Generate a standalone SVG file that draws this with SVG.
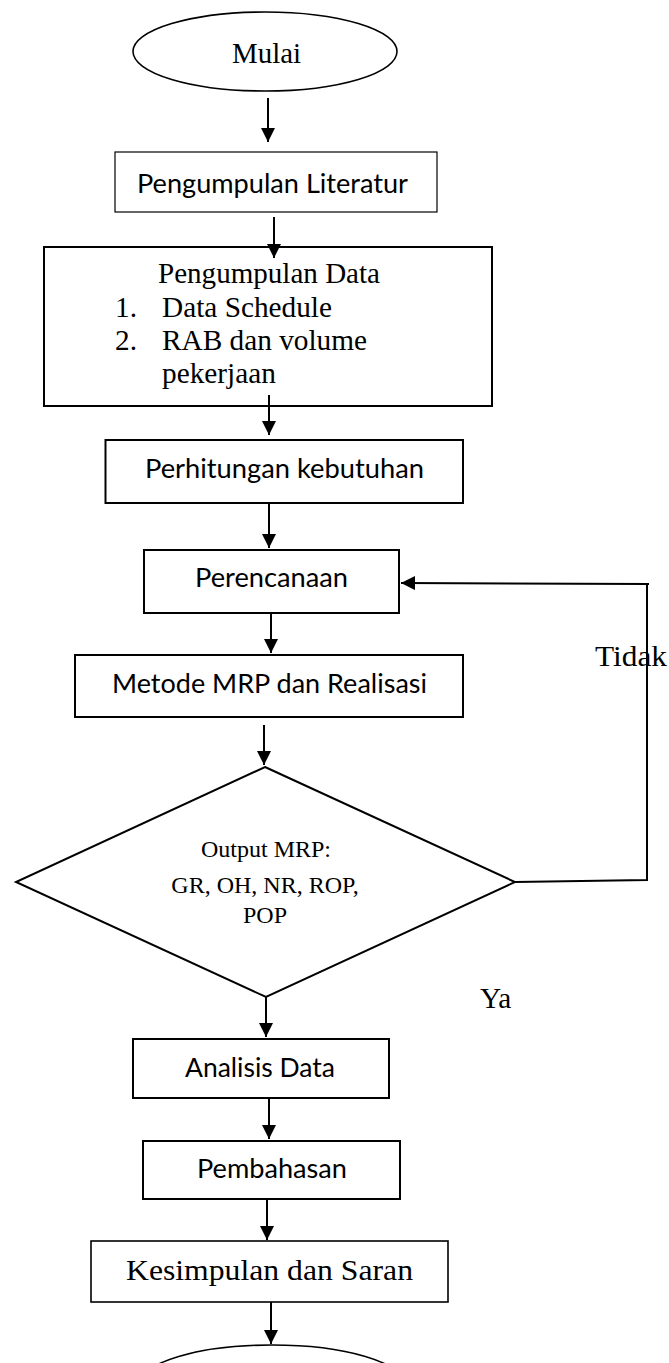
<svg xmlns="http://www.w3.org/2000/svg" width="669" height="1363" viewBox="0 0 669 1363">
<style>
.bg{fill:#fff}
.box{fill:#fff;stroke:#000;stroke-width:2}
.thin{stroke-width:1.2}
.mid{stroke-width:1.6}
.sans{font-family:Lato,"Open Sans","Liberation Sans",sans-serif;font-size:26.5px;fill:#000}
.serif{font-family:"Liberation Serif","Times New Roman",serif;font-size:29.3px;fill:#000}
.small{font-size:24px}
.con{fill:none;stroke:#000;stroke-width:2}
</style>
<defs>
<marker id="ah" markerUnits="userSpaceOnUse" markerWidth="14" markerHeight="14" refX="14" refY="7" orient="auto">
<path d="M0,0 L14,7 L0,14 Z" fill="#000"/>
</marker>
</defs>
<rect class="bg" x="0" y="0" width="669" height="1363"/>

<g id="mulai">
<ellipse class="box mid" cx="265" cy="51.5" rx="132" ry="39.5"/>
<text class="serif" x="232" y="63" textLength="69" lengthAdjust="spacingAndGlyphs">Mulai</text>
</g>

<g id="literatur">
<rect class="box thin" x="115" y="152" width="322" height="60"/>
<text class="sans" x="137" y="193" textLength="271" lengthAdjust="spacingAndGlyphs">Pengumpulan Literatur</text>
</g>

<g id="data">
<rect class="box" x="44" y="247" width="448" height="159"/>
<text class="serif" x="158" y="283" textLength="222" lengthAdjust="spacingAndGlyphs">Pengumpulan Data</text>
<text class="serif" x="115" y="317">1.</text>
<text class="serif" x="162" y="317">Data Schedule</text>
<text class="serif" x="115" y="350">2.</text>
<text class="serif" x="162" y="350">RAB dan volume</text>
<text class="serif" x="162" y="383">pekerjaan</text>
</g>

<g id="perhitungan">
<rect class="box" x="105.5" y="440" width="357.5" height="63"/>
<text class="sans" x="145" y="478" textLength="279" lengthAdjust="spacingAndGlyphs">Perhitungan kebutuhan</text>
</g>

<g id="perencanaan">
<rect class="box" x="144" y="550" width="255" height="63"/>
<text class="sans" x="195" y="587" textLength="153" lengthAdjust="spacingAndGlyphs">Perencanaan</text>
</g>

<g id="metode">
<rect class="box" x="75" y="655" width="388" height="62"/>
<text class="sans" x="112" y="693" textLength="315" lengthAdjust="spacingAndGlyphs">Metode MRP dan Realisasi</text>
</g>

<g id="output">
<polygon class="box" points="265,767 515,882 266,997 16,882"/>
<text class="serif small" x="266" y="857" text-anchor="middle">Output MRP:</text>
<text class="serif small" x="265" y="893" text-anchor="middle">GR, OH, NR, ROP,</text>
<text class="serif small" x="265" y="923" text-anchor="middle">POP</text>
</g>

<g id="analisis">
<rect class="box" x="133" y="1039" width="256" height="59"/>
<text class="sans" x="185" y="1077" textLength="150" lengthAdjust="spacingAndGlyphs">Analisis Data</text>
</g>

<g id="pembahasan">
<rect class="box" x="143" y="1141" width="257" height="58"/>
<text class="sans" x="197" y="1178" textLength="150" lengthAdjust="spacingAndGlyphs">Pembahasan</text>
</g>

<g id="kesimpulan">
<rect class="box mid" x="91" y="1241" width="357" height="61"/>
<text class="serif" x="126" y="1280" textLength="287" lengthAdjust="spacingAndGlyphs">Kesimpulan dan Saran</text>
</g>

<g id="selesai">
<ellipse class="box mid" cx="272" cy="1384" rx="132" ry="39"/>
</g>

<g id="connectors">
<line class="con" x1="268" y1="98" x2="268" y2="142" marker-end="url(#ah)"/>
<line class="con" x1="274" y1="217" x2="274" y2="258" marker-end="url(#ah)"/>
<line class="con" x1="269" y1="395" x2="269" y2="435" marker-end="url(#ah)"/>
<line class="con" x1="269" y1="503" x2="269" y2="548" marker-end="url(#ah)"/>
<line class="con" x1="271" y1="613" x2="271" y2="653" marker-end="url(#ah)"/>
<line class="con" x1="264" y1="725" x2="264" y2="765" marker-end="url(#ah)"/>
<polyline class="con" points="515,882 647,880 647,583" />
<line class="con" x1="649" y1="584" x2="401" y2="583" marker-end="url(#ah)"/>
<line class="con" x1="266" y1="997" x2="266" y2="1037" marker-end="url(#ah)"/>
<line class="con" x1="269" y1="1098" x2="269" y2="1139" marker-end="url(#ah)"/>
<line class="con" x1="267" y1="1199" x2="267" y2="1240" marker-end="url(#ah)"/>
<line class="con" x1="271" y1="1302" x2="271" y2="1344" marker-end="url(#ah)"/>
<text class="serif" x="595" y="666" textLength="72" lengthAdjust="spacingAndGlyphs">Tidak</text>
<text class="serif" x="480" y="1008">Ya</text>
</g>
</svg>
